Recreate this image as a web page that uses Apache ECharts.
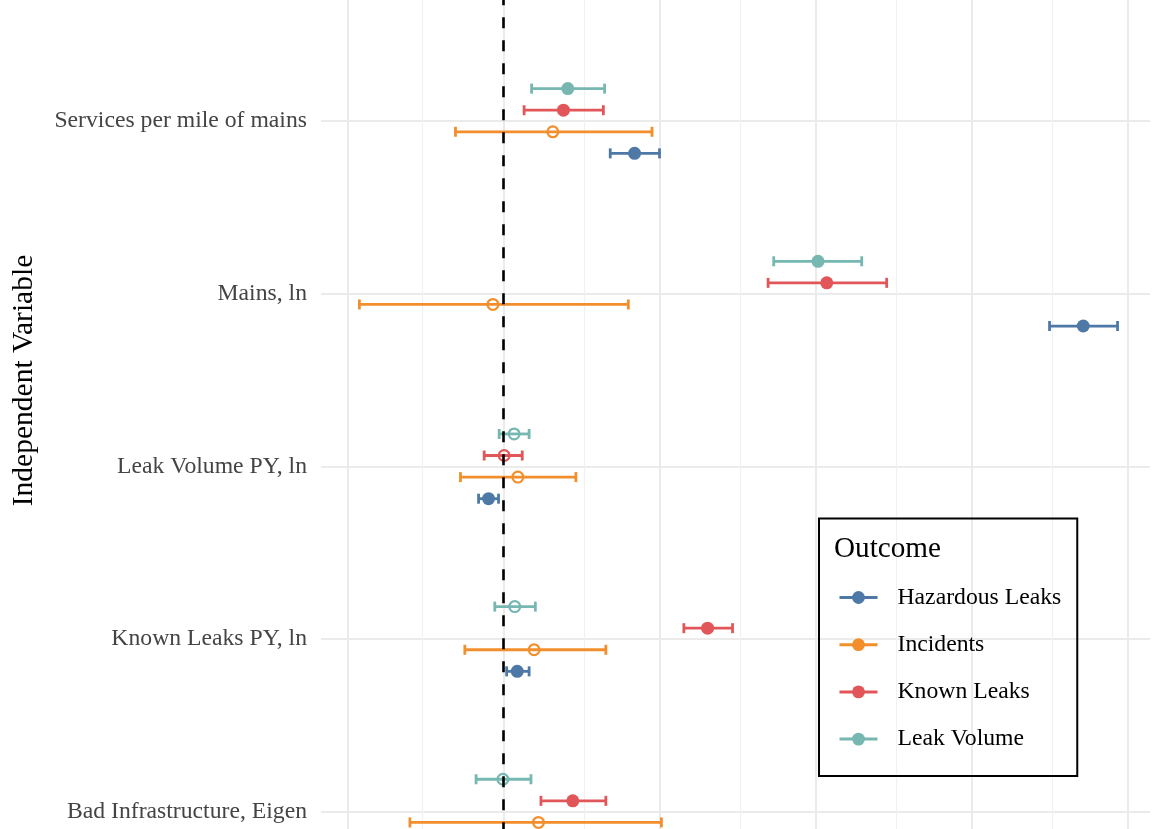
<!DOCTYPE html>
<html>
<head>
<meta charset="utf-8">
<script src="https://cdn.jsdelivr.net/npm/echarts@6/dist/echarts.min.js"></script>
<style>html,body{margin:0;padding:0;background:#fff}#chart{width:1157px;height:829px}</style>
</head>
<body>
<div id="chart"></div>
<script>
// ---- data ----
const categories = ['Services per mile of mains', 'Mains, ln', 'Leak Volume PY, ln', 'Known Leaks PY, ln', 'Bad Infrastructure, Eigen'];
const outcomes = ['Hazardous Leaks', 'Incidents', 'Known Leaks', 'Leak Volume'];

const hazardousEst = [0.210, 0.929, -0.024, 0.022, null];
const hazardousLo  = [0.171, 0.875, -0.040, 0.005, null];
const hazardousHi  = [0.250, 0.984, -0.008, 0.041, null];

const incidentsEst = [0.079, -0.017, 0.023, 0.049, 0.056];
const incidentsLo  = [-0.077, -0.231, -0.069, -0.062, -0.150];
const incidentsHi  = [0.238, 0.200, 0.116, 0.164, 0.253];

const knownEst = [0.096, 0.518, 0.001, 0.327, 0.111];
const knownLo  = [0.033, 0.424, -0.031, 0.289, 0.060];
const knownHi  = [0.160, 0.614, 0.030, 0.367, 0.164];

const volumeEst = [0.103, 0.504, 0.017, 0.018, -0.001];
const volumeLo  = [0.045, 0.433, -0.007, -0.014, -0.044];
const volumeHi  = [0.162, 0.574, 0.041, 0.051, 0.044];

const majorTicks = [-0.25, 0, 0.25, 0.5, 0.75, 1.0];
const minorTicks = [-0.125, 0.125, 0.375, 0.625, 0.875];

// ---- styling ----
const colors = {'Hazardous Leaks': '#4E79A7', 'Incidents': '#F28E2B', 'Known Leaks': '#E15759', 'Leak Volume': '#76B7B2'};
const dodge = {'Leak Volume': -0.1875, 'Known Leaks': -0.0625, 'Incidents': 0.0625, 'Hazardous Leaks': 0.1875};
const serif = '"Liberation Serif", "Times New Roman", serif';

const chart = echarts.init(document.getElementById('chart'), null, {renderer: 'canvas'});

function makeSeries(name, est, lo, hi) {
  const data = [];
  categories.forEach((c, j) => {
    if (est[j] !== null) data.push([j + 1, est[j], lo[j], hi[j]]);
  });
  const color = colors[name];
  const off = dodge[name];
  return {
    type: 'custom',
    name: name,
    xAxisIndex: 0,
    yAxisIndex: 1,
    z: 3,
    silent: true,
    encode: {x: [1, 2, 3], y: 0},
    data: data,
    renderItem: function (params, api) {
      const y = api.value(0) + off;
      const e = api.value(1), l = api.value(2), h = api.value(3);
      const pE = api.coord([e, y]);
      const pL = api.coord([l, y]);
      const pH = api.coord([h, y]);
      const cap = 5;
      const hollow = l <= 0 && h >= 0;
      const ls = {stroke: color, lineWidth: 2.8};
      return {
        type: 'group',
        children: [
          {type: 'line', shape: {x1: pL[0], y1: pL[1], x2: pH[0], y2: pH[1]}, style: ls},
          {type: 'line', shape: {x1: pL[0], y1: pL[1] - cap, x2: pL[0], y2: pL[1] + cap}, style: ls},
          {type: 'line', shape: {x1: pH[0], y1: pH[1] - cap, x2: pH[0], y2: pH[1] + cap}, style: ls},
          hollow
            ? {type: 'circle', shape: {cx: pE[0], cy: pE[1], r: 5.4}, style: {fill: 'none', stroke: color, lineWidth: 2.2}}
            : {type: 'circle', shape: {cx: pE[0], cy: pE[1], r: 6.5}, style: {fill: color}}
        ]
      };
    }
  };
}

const legendSeries = outcomes.map(n => ({
  type: 'line', name: n, data: [], xAxisIndex: 0, yAxisIndex: 1,
  symbol: 'circle', symbolSize: 12,
  itemStyle: {color: colors[n]}, lineStyle: {color: colors[n], width: 3}
}));

const gridLineSeries = {
  type: 'line', data: [], xAxisIndex: 0, yAxisIndex: 1, z: 1, silent: true,
  markLine: {
    silent: true, symbol: ['none', 'none'], label: {show: false}, z: 1, animation: false,
    emphasis: {disabled: true},
    data: majorTicks.map(v => ({xAxis: v, lineStyle: {color: '#ebebeb', width: 2, type: 'solid'}}))
      .concat(minorTicks.map(v => ({xAxis: v, lineStyle: {color: '#f1f1f1', width: 1.2, type: 'solid'}})))
  }
};

const zeroLineSeries = {
  type: 'line', data: [], xAxisIndex: 0, yAxisIndex: 1, z: 10, silent: true,
  markLine: {
    silent: true, symbol: ['none', 'none'], label: {show: false}, z: 10, animation: false,
    emphasis: {disabled: true},
    data: [{xAxis: 0, lineStyle: {color: '#000', width: 2.6, type: [11, 12]}}]
  }
};

const option = {
  animation: false,
  backgroundColor: '#fff',
  grid: {left: 321, right: 7, top: -51.67, bottom: -155.3, containLabel: false, outerBoundsMode: 'none'},
  xAxis: [{
    type: 'value', min: -0.2925, max: 1.036,
    axisLine: {show: false}, axisTick: {show: false}, axisLabel: {show: false}, splitLine: {show: false}
  }],
  yAxis: [{
    type: 'category', data: [''].concat(categories).concat(['']), inverse: true, boundaryGap: false,
    axisLine: {show: false}, axisTick: {show: false, interval: 0},
    axisLabel: {interval: 0, fontFamily: serif, fontSize: 23.7, color: '#444444', margin: 14,
      verticalAlign: 'middle', lineHeight: 24, padding: [6, 0, 0, 0]},
    splitLine: {show: true, interval: 0, lineStyle: {color: '#ebebeb', width: 2}}
  }, {
    type: 'value', min: 0, max: 6, inverse: true, show: false,
    splitLine: {show: false}
  }],
  title: {
    text: 'Outcome', left: 834, top: 535, padding: 0,
    textStyle: {fontFamily: serif, fontSize: 29.2, fontWeight: 'normal', color: '#000'}
  },
  legend: {
    data: outcomes, orient: 'vertical', left: 819, top: 518.5,
    padding: [67, 16, 25, 19], itemWidth: 38, itemHeight: 16, itemGap: 23.2,
    borderColor: '#000', borderWidth: 2, selectedMode: false,
    lineStyle: {width: 3},
    textStyle: {fontFamily: serif, fontSize: 23.7, color: '#000', padding: [0, 0, 0, 15], lineHeight: 24}
  },
  graphic: [{
    type: 'text', x: 24.5, y: 380.5, rotation: Math.PI / 2,
    style: {text: 'Independent Variable', fontFamily: serif, fontSize: 29.5, fill: '#000', align: 'center', verticalAlign: 'middle'}
  }],
  series: legendSeries.concat([gridLineSeries,
    makeSeries('Hazardous Leaks', hazardousEst, hazardousLo, hazardousHi),
    makeSeries('Incidents', incidentsEst, incidentsLo, incidentsHi),
    makeSeries('Known Leaks', knownEst, knownLo, knownHi),
    makeSeries('Leak Volume', volumeEst, volumeLo, volumeHi),
    zeroLineSeries])
};
chart.setOption(option);
</script>
</body>
</html>
